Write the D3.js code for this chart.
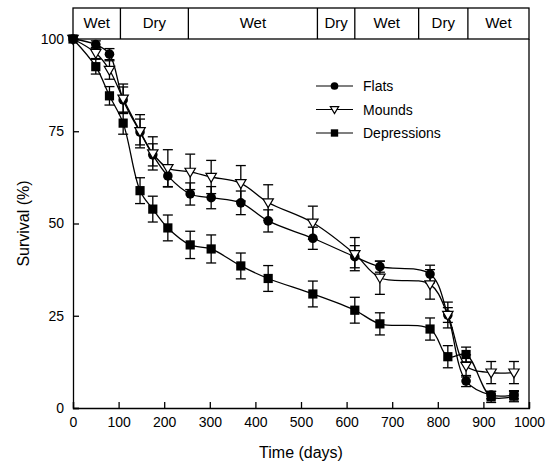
<!DOCTYPE html>
<html>
<head>
<meta charset="utf-8">
<script src="https://cdn.jsdelivr.net/npm/d3@7"></script>
<style>
  body { margin: 0; background: #fff; }
  svg { font-family: "Liberation Sans", Arial, sans-serif; }
</style>
</head>
<body>
<div id="chart"></div>
<script>
// sampling days (shared by all three series)
var days = [0, 50, 80, 110, 147, 175, 208, 257, 303, 368, 428, 526, 618, 673, 783, 822, 862, 917, 967];

// survival (%) and standard errors
var flats     = [100, 98.5, 95.9, 83.5, 74.8, 68.6, 62.9, 58.0, 57.0, 55.6, 50.7, 46.0, 41.0, 38.3, 36.3, 25.2, 7.3, 3.5, 3.5];
var flatsErr  = [0, 1, 1.5, 3.5, 3.5, 3, 3, 3, 3, 3.2, 3, 3, 3, 1.5, 2.4, 2, 1.5, 1, 1];
var mounds    = [100, 96.2, 91.6, 83.8, 75.0, 69.0, 65.0, 64.0, 62.6, 60.9, 55.7, 50.2, 41.7, 35.3, 33.5, 25.2, 11.4, 9.6, 9.6];
var moundsErr = [0, 1.5, 2.5, 4, 4.5, 4.5, 5, 4.8, 4.5, 4.8, 4.8, 4.5, 4.5, 4.5, 4, 3.5, 3, 3, 3];
var depress   = [100, 92.5, 84.6, 77.2, 58.9, 53.9, 48.8, 44.2, 43.1, 38.5, 35.1, 30.9, 26.5, 22.8, 21.4, 13.9, 14.5, 3.0, 3.2];
var depressErr= [0, 2, 2.5, 3, 3.5, 3.5, 3.5, 3.7, 3.8, 3.5, 3.5, 3.5, 3.5, 3, 3, 3, 2, 1.5, 1.5];

// season bands along the top
var seasons = ["Wet", "Dry", "Wet", "Dry", "Wet", "Dry", "Wet"];
var seasonEdges = [0, 104, 253, 536, 618, 758, 866, 1000];

var xTicks = [0, 100, 200, 300, 400, 500, 600, 700, 800, 900, 1000];
var yTicks = [0, 25, 50, 75, 100];

var seriesNames = ["Flats", "Mounds", "Depressions"];

var svg = d3.select('#chart').append('svg')
  .attr('width', 555)
  .attr('height', 463);

var x = d3.scaleLinear().domain([0, 1000]).range([73, 529]);
var y = d3.scaleLinear().domain([0, 100]).range([408, 39]);

// frame: right side of the plot
svg.append('line')
  .attr('x1', x(1000)).attr('x2', x(1000))
  .attr('y1', y(100)).attr('y2', y(0))
  .attr('stroke', '#000').attr('stroke-width', 1.3);

// season band
var band = svg.append('g');
band.append('rect')
  .attr('x', x(0)).attr('y', 8)
  .attr('width', x(1000) - x(0)).attr('height', y(100) - 8)
  .attr('fill', 'none').attr('stroke', '#000').attr('stroke-width', 1.3);
seasons.forEach(function (s, i) {
  if (i > 0) {
    band.append('line')
      .attr('x1', x(seasonEdges[i])).attr('x2', x(seasonEdges[i]))
      .attr('y1', 8).attr('y2', y(100))
      .attr('stroke', '#000').attr('stroke-width', 1.3);
  }
  band.append('text')
    .attr('x', (x(seasonEdges[i]) + x(seasonEdges[i + 1])) / 2)
    .attr('y', 28)
    .attr('text-anchor', 'middle')
    .attr('font-size', 15)
    .text(s);
});

// axes with inward ticks
var xAxis = svg.append('g')
  .attr('transform', 'translate(0,' + y(0) + ')')
  .call(d3.axisBottom(x).tickValues(xTicks).tickSize(-6).tickPadding(9).tickFormat(d3.format('d')));
var yAxis = svg.append('g')
  .attr('transform', 'translate(' + x(0) + ',0)')
  .call(d3.axisLeft(y).tickValues(yTicks).tickSize(-6).tickPadding(9));
[xAxis, yAxis].forEach(function (g) {
  g.select('.domain').attr('stroke-width', 1.3);
  g.selectAll('.tick line').attr('stroke-width', 1.3);
  g.selectAll('.tick text').attr('font-size', 14).attr('font-family', '"Liberation Sans", Arial, sans-serif').attr('fill', '#000');
});

svg.append('text')
  .attr('x', (x(0) + x(1000)) / 2).attr('y', 458)
  .attr('text-anchor', 'middle').attr('font-size', 16)
  .text('Time (days)');
svg.append('text')
  .attr('transform', 'translate(29,' + y(50) + ') rotate(-90)')
  .attr('text-anchor', 'middle').attr('font-size', 16)
  .text('Survival (%)');

// markers
function drawMarker(g, kind, cx, cy, s) {
  if (kind === 'circle') {
    g.append('circle').attr('cx', cx).attr('cy', cy).attr('r', 4.8 * s).attr('fill', '#000');
  } else if (kind === 'square') {
    var h = 4.6 * s;
    g.append('rect').attr('x', cx - h).attr('y', cy - h).attr('width', 2 * h).attr('height', 2 * h).attr('fill', '#000');
  } else {
    var w = 5.2 * s, t = 3.6 * s, b = 5.2 * s;
    g.append('path')
      .attr('d', 'M' + (cx - w) + ',' + (cy - t) + 'L' + (cx + w) + ',' + (cy - t) + 'L' + cx + ',' + (cy + b) + 'Z')
      .attr('fill', '#fff').attr('stroke', '#000').attr('stroke-width', 1.2);
  }
}

var series = [
  { name: seriesNames[0], vals: flats, err: flatsErr, kind: 'circle' },
  { name: seriesNames[1], vals: mounds, err: moundsErr, kind: 'triangle' },
  { name: seriesNames[2], vals: depress, err: depressErr, kind: 'square' }
];

var line = d3.line()
  .x(function (d) { return x(d[0]); })
  .y(function (d) { return y(d[1]); })
  .curve(d3.curveCatmullRom.alpha(0.5));

var plot = svg.append('g');
series.forEach(function (s) {
  var pts = days.map(function (d, i) { return [d, s.vals[i]]; });
  plot.append('path').datum(pts)
    .attr('d', line)
    .attr('fill', 'none').attr('stroke', '#000').attr('stroke-width', 1.3);
});
series.forEach(function (s) {
  days.forEach(function (d, i) {
    if (!s.err[i]) return;
    var cx = x(d), y1 = y(s.vals[i] + s.err[i]), y2 = y(s.vals[i] - s.err[i]);
    plot.append('line').attr('x1', cx).attr('x2', cx).attr('y1', y1).attr('y2', y2)
      .attr('stroke', '#000').attr('stroke-width', 1.3);
    [y1, y2].forEach(function (yy) {
      plot.append('line').attr('x1', cx - 5).attr('x2', cx + 5).attr('y1', yy).attr('y2', yy)
        .attr('stroke', '#000').attr('stroke-width', 1.3);
    });
  });
});
series.forEach(function (s) {
  days.forEach(function (d, i) {
    drawMarker(plot, s.kind, x(d), y(s.vals[i]), 1);
  });
});

// legend
var legend = svg.append('g');
series.forEach(function (s, i) {
  var ly = 86 + i * 23.5;
  legend.append('line').attr('x1', 316).attr('x2', 353).attr('y1', ly).attr('y2', ly)
    .attr('stroke', '#000').attr('stroke-width', 1.2);
  drawMarker(legend, s.kind, 334.5, ly, 0.8);
  legend.append('text').attr('x', 363).attr('y', ly + 5).attr('font-size', 14).text(s.name);
});
</script>
</body>
</html>
